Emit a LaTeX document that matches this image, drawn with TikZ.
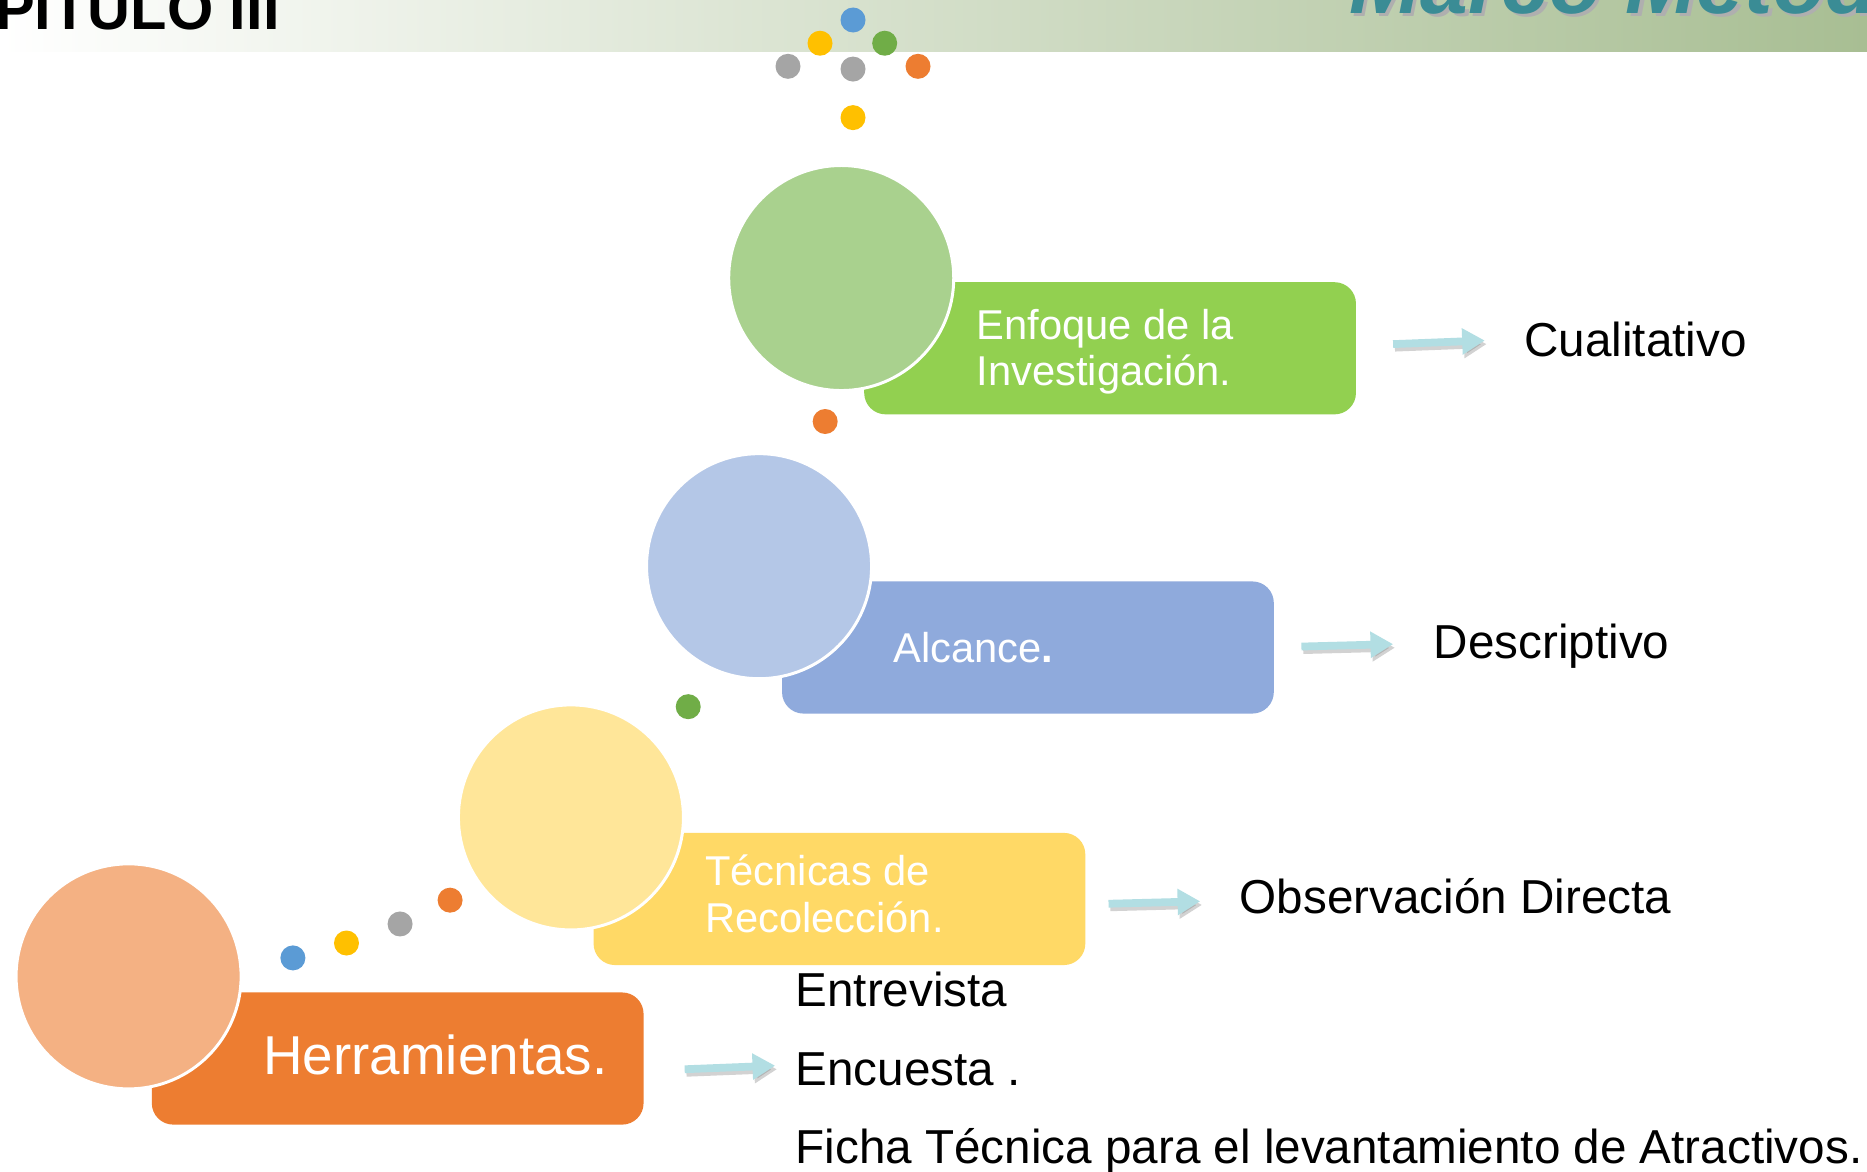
\documentclass[tikz,border=0pt]{standalone}
\usepackage{fontspec}
\setmainfont{Liberation Sans}
\usetikzlibrary{arrows.meta}
\definecolor{barM}{RGB}{222,229,214}
\definecolor{barR}{RGB}{168,190,147}
\definecolor{tealT}{RGB}{58,140,149}
\definecolor{shadowT}{RGB}{175,175,175}
\definecolor{gCirc}{HTML}{A9D18E}
\definecolor{gBox}{HTML}{92D050}
\definecolor{bCirc}{HTML}{B4C7E7}
\definecolor{bBox}{HTML}{8FAADC}
\definecolor{yCirc}{HTML}{FFE699}
\definecolor{yBox}{HTML}{FFD966}
\definecolor{oCirc}{HTML}{F4B183}
\definecolor{oBox}{HTML}{ED7D31}
\definecolor{dBlue}{HTML}{5B9BD5}
\definecolor{dYellow}{HTML}{FFC000}
\definecolor{dGreen}{HTML}{70AD47}
\definecolor{dGrey}{HTML}{A5A5A5}
\definecolor{dOrange}{HTML}{ED7D31}
\definecolor{arrowc}{RGB}{178,222,227}
\tikzset{
  dot/.style={circle, inner sep=0pt, minimum size=21pt},
  bigc/.style={circle, inner sep=0pt, minimum size=189pt, draw=white, line width=2.5pt},
  box/.style={rectangle, rounded corners=18pt, inner sep=0pt, minimum height=111pt, minimum width=413pt},
  boxtxt/.style={anchor=base west, inner sep=0pt, text=white, font=\fontsize{35}{38}\selectfont},
  bodytxt/.style={anchor=base west, inner sep=0pt, text=black, font=\fontsize{40}{48}\selectfont},
  arr/.style={line width=6.5pt, draw=arrowc, -{Triangle[length=19pt,width=21pt]}},
  arrsh/.style={line width=6.5pt, draw=gray, opacity=0.35, -{Triangle[length=19pt,width=21pt]}}
}
\begin{document}
\begin{tikzpicture}[x=1pt,y=-1pt]
\clip (0,0) rectangle (1568,984);
\fill[white] (0,0) rectangle (1568,984);
% header bar
\shade[left color=white, middle color=barM, right color=barR] (0,0) rectangle (1568,43.5);
\node[anchor=base east, inner sep=0pt, font=\bfseries\fontsize{50}{60}\selectfont] (cap) at (235,25) {PITULO III};
\node[anchor=base west, inner sep=0pt, text=shadowT, font=\bfseries\itshape\fontsize{72}{80}\selectfont] (titsh) at (1136,14) {Marco Metod};
\node[anchor=base west, inner sep=0pt, text=tealT, font=\bfseries\itshape\fontsize{72}{80}\selectfont] (tit) at (1133,11) {Marco Metod};
% top dots
\node[dot, fill=dBlue] (t1) at (716.4,16.8) {};
\node[dot, fill=dYellow] (t2) at (688.7,36.3) {};
\node[dot, fill=dGreen] (t3) at (743,36.3) {};
\node[dot, fill=dGrey] (t4) at (661.8,55.7) {};
\node[dot, fill=dGrey] (t5) at (716.4,58) {};
\node[dot, fill=dOrange] (t6) at (771,55.7) {};
\node[dot, fill=dYellow] (t7) at (716.4,98.8) {};
% boxes
\node[box, fill=gBox] (b1) at (932.3,292.5) {};
\node[box, fill=bBox] (b2) at (863.3,543.8) {};
\node[box, fill=yBox] (b3) at (705,755) {};
\node[box, fill=oBox] (b4) at (334,889) {};
% circles
\node[bigc, fill=gCirc] (c1) at (706.5,233.5) {};
\node[bigc, fill=bCirc] (c2) at (637.5,475.5) {};
\node[bigc, fill=yCirc] (c3) at (479.5,686.5) {};
\node[bigc, fill=oCirc] (c4) at (108,820) {};
% small dots between
\node[dot, fill=dOrange] (s1) at (693,354) {};
\node[dot, fill=dGreen] (s2) at (578,593.5) {};
\node[dot, fill=dOrange] (s3) at (378,756) {};
\node[dot, fill=dGrey] (s4) at (336,776) {};
\node[dot, fill=dYellow] (s5) at (291,792) {};
\node[dot, fill=dBlue] (s6) at (246,804.5) {};
% box texts
\node[boxtxt] (l1a) at (820,285) {Enfoque de la};
\node[boxtxt] (l1b) at (820,324) {Investigación.};
\node[boxtxt] (l2) at (750,556) {Alcance\textbf{.}};
\node[boxtxt] (l3a) at (592,744) {Técnicas de};
\node[boxtxt] (l3b) at (592,783) {Recolección.};
\node[boxtxt, font=\fontsize{46}{50}\selectfont] (l4) at (221,902) {Herramientas.};
% result texts
\node[bodytxt] (r1) at (1280,299) {Cualitativo};
\node[bodytxt] (r2) at (1204,553) {Descriptivo};
\node[bodytxt] (r3) at (1041,767) {Observación Directa};
\node[bodytxt] (r4) at (668,845) {Entrevista};
\node[bodytxt] (r5) at (668,912) {Encuesta .};
\node[bodytxt] (r6) at (668,977) {Ficha Técnica para el levantamiento de Atractivos.};
% arrows
\coordinate (a1s) at (1170,289); \coordinate (a1e) at (1247,286);
\coordinate (a2s) at (1093,543); \coordinate (a2e) at (1170,541);
\coordinate (a3s) at (931,759); \coordinate (a3e) at (1008,757);
\coordinate (a4s) at (575,898); \coordinate (a4e) at (651,895);
\foreach \a in {1,2,3,4}{
  \draw[arrsh] ([shift={(1.5,3)}]a\a s) -- ([shift={(1.5,3)}]a\a e);
  \draw[arr] (a\a s) -- (a\a e);
}
\end{tikzpicture}
\end{document}
